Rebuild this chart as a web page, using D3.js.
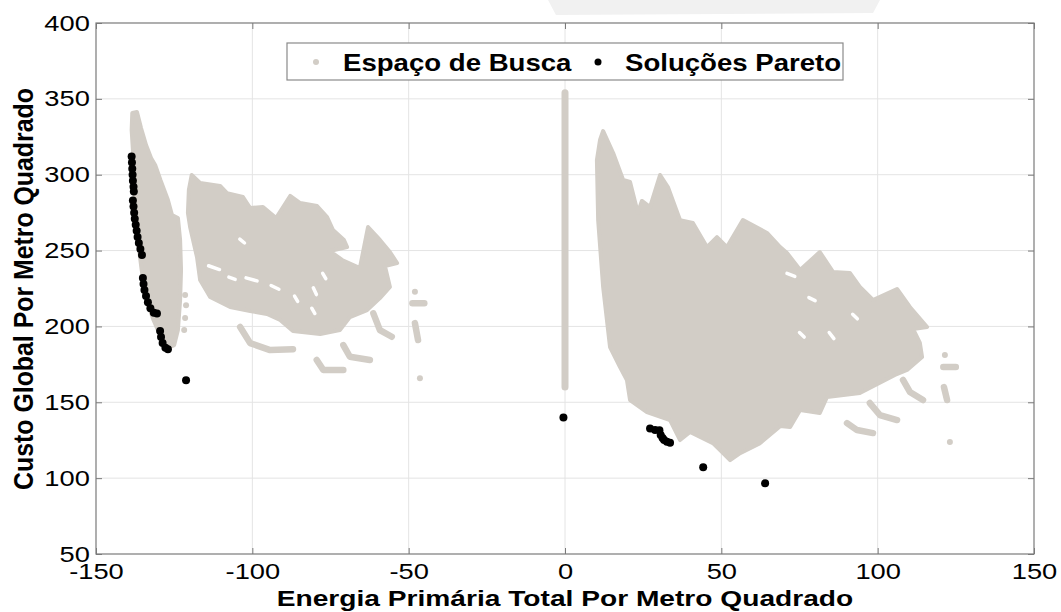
<!DOCTYPE html>
<html>
<head>
<meta charset="utf-8">
<script src="https://cdn.jsdelivr.net/npm/d3@7"></script>
<style>
  body { margin: 0; background: #fff; }
  svg { display: block; font-family: "Liberation Sans", Arial, sans-serif; }
</style>
</head>
<body>
<svg id="chart" width="1061" height="612"></svg>
<script>
// tick values
var xTicks = [-150, -100, -50, 0, 50, 100, 150];
var yTicks = [50, 100, 150, 200, 250, 300, 350, 400];

// search space ("Espaço de Busca") - outlines of the dense clouds
var blobLeftNarrow = [[-138.4,340.7],[-136.9,341.3],[-135.6,330.8],[-134.0,319.6],[-132.4,311.0],[-131.0,306.0],
  [-129.4,296.5],[-127.0,283.3],[-125.7,273.4],[-123.8,271.5],[-123.1,257.0],[-122.8,237.2],[-123.1,217.4],
  [-123.8,197.6],[-125.0,187.7],[-127.0,185.8],[-129.5,194.3],[-131.6,204.2],[-133.8,217.4],[-135.4,237.2],
  [-136.6,257.0],[-137.6,283.3],[-138.0,309.7],[-138.6,329.5]];
var blobLeftWide = [[-119.4,299.8],[-116.7,294.5],[-110.3,292.6],[-108.1,287.9],[-103.0,285.3],[-100.7,278.0],
  [-96.6,278.7],[-92.4,271.5],[-87.9,286.0],[-84.7,281.3],[-79.3,279.4],[-76.1,272.1],[-74.2,263.5],[-70.7,257.0],
  [-69.7,252.3],[-75.2,249.7],[-71.3,243.8],[-65.6,238.5],[-63.0,265.5],[-59.2,257.0],[-56.0,249.0],[-53.7,241.8],
  [-57.6,239.8],[-56.0,226.0],[-59.2,218.7],[-63.3,210.8],[-68.8,206.2],[-72.0,197.6],[-78.3,195.0],[-87.0,197.0],
  [-91.1,204.2],[-95.3,208.2],[-100.7,210.2],[-107.1,212.8],[-113.5,219.4],[-116.7,230.6],[-117.7,245.7],
  [-119.9,265.5],[-120.6,274.8],[-120.3,290.0]];
var blobRight = [[12.2,328.8],[15.4,314.3],[18.6,296.5],[20.8,295.2],[23.3,274.8],[24.6,282.7],[27.2,278.7],
  [30.4,299.8],[32.9,291.9],[36.8,270.1],[40.9,268.2],[45.4,252.3],[48.6,258.9],[51.8,252.3],[56.9,270.1],
  [64.6,261.6],[68.8,252.3],[71.0,248.4],[75.2,237.2],[81.5,249.0],[85.7,235.9],[91.1,235.2],[94.3,226.0],
  [98.5,217.4],[106.2,224.7],[110.3,212.8],[115.8,199.6],[111.3,198.3],[113.5,189.1],[114.2,179.8],[109.4,171.3],
  [105.5,168.0],[94.3,156.1],[83.8,153.5],[81.5,142.9],[75.2,144.9],[72.0,133.7],[68.8,134.3],[62.4,123.1],
  [56.0,116.5],[52.8,111.9],[49.6,118.5],[47.3,123.1],[40.0,130.4],[36.8,125.1],[33.6,138.3],[26.2,143.6],
  [20.8,151.5],[19.8,164.7],[17.6,173.2],[14.4,186.4],[12.2,226.0],[10.6,270.1],[10.2,309.7],[11.2,322.9]];
var zeroColumn = [[0, 160], [0, 354]];
var searchHooks = [
  [[-103.9,199.6],[-100.7,189.0],[-94.3,184.4],[-87.0,185.0]],
  [[-79.4,177.9],[-77.3,171.3],[-70.9,171.3]],
  [[-70.9,187.7],[-68.8,180.0],[-62.4,177.9]],
  [[-61.3,208.6],[-59.2,197.6],[-55.4,193.2]],
  [[-48.0,202.2],[-47.0,191.0]],
  [[-48.8,215.2],[-45.0,215.2]],
  [[108.1,164.7],[110.3,156.8],[114.5,151.5]],
  [[97.5,149.5],[100.7,141.6],[106.2,138.3]],
  [[90.2,136.3],[93.4,131.7],[98.5,129.7]],
  [[121.2,160.0],[122.2,151.5]],
  [[121.0,173.2],[125.0,173.2]]
];
var searchDots = [[-121.5,220.7],[-121.2,214.0],[-121.5,205.5],[-121.8,197.6],[-48.0,222.9],[-46.4,165.8],
  [121.5,181.1],[123.1,123.8]];
// small empty pockets inside the clouds
var cloudGaps = [
  [[-114.0,240.0],[-110.5,237.5]], [[-107.5,232.5],[-105.5,231.0]], [[-102.0,232.0],[-98.5,230.0]],
  [[-94.0,227.0],[-91.5,224.5]], [[-86.5,220.0],[-85.5,216.5]], [[-81.0,212.0],[-80.0,208.5]],
  [[-104.0,257.5],[-102.5,255.0]], [[-77.5,235.0],[-76.5,231.5]], [[-80.5,225.5],[-79.5,221.0]],
  [[44.5,268.0],[46.0,264.0]], [[71.0,235.0],[73.5,233.0]], [[78.0,219.0],[80.0,217.0]],
  [[92.0,208.0],[93.5,205.0]], [[84.5,196.0],[86.0,192.0]], [[75.0,196.0],[76.5,193.0]]
];

// Pareto solutions ("Soluções Pareto")
var paretoLeft = [[-138.6,312],[-138.5,308],[-138.4,304],[-138.3,300],[-138.2,296],[-138.0,292],[-137.9,289],
  [-138.2,283],[-138.0,279],[-137.8,275],[-137.6,271],[-137.3,267],[-137.0,263],[-136.7,259],[-136.3,255],
  [-135.8,251],[-135.3,247],
  [-135.0,232],[-134.8,228],[-134.5,224],[-134.0,220],[-133.4,216],[-132.6,212],[-131.5,209],[-130.5,208.5],
  [-129.5,197],[-129.2,193],[-128.7,189],[-127.8,186],[-127.0,185],
  [-121.2,164.5]];
var paretoRight = [[-0.5,140],[27.2,132.8],[28.8,131.7],[30.2,131.5],[30.6,128.4],[31.2,126.5],[31.7,125.1],
  [32.6,124.0],[33.6,123.3],[44.2,107.1],[64.0,96.6]];

var legendLabels = ["Espaço de Busca", "Soluções Pareto"];

var svg = d3.select("#chart"),
    grey = "#d2cdc6",
    frame = "#7a7a7a",
    x = d3.scaleLinear().domain([-150, 150]).range([96, 1034]),
    y = d3.scaleLinear().domain([50, 400]).range([554, 23]);

// faint scan artefact above the plot
svg.append("path")
    .attr("d", "M548,0L880,0L873,13L556,15Z")
    .attr("fill", "#f1f1f1");

// grid
svg.append("g").selectAll("line").data(xTicks.slice(1, -1)).join("line")
    .attr("x1", d => x(d)).attr("x2", d => x(d))
    .attr("y1", y(50)).attr("y2", y(400))
    .attr("stroke", "#e4e4e4");
svg.append("g").selectAll("line").data(yTicks.slice(1, -1)).join("line")
    .attr("x1", x(-150)).attr("x2", x(150))
    .attr("y1", d => y(d)).attr("y2", d => y(d))
    .attr("stroke", "#e4e4e4");

var openLine = d3.line().x(d => x(d[0])).y(d => y(d[1]));
var closedLine = d3.line().x(d => x(d[0])).y(d => y(d[1])).curve(d3.curveLinearClosed);

// search space clouds
var cloud = svg.append("g");
cloud.selectAll("path.blob").data([blobLeftNarrow, blobLeftWide, blobRight]).join("path")
    .attr("class", "blob")
    .attr("d", d => closedLine(d))
    .attr("fill", grey)
    .attr("stroke", grey)
    .attr("stroke-width", 4)
    .attr("stroke-linejoin", "round");
cloud.selectAll("path.hook").data(searchHooks.concat([zeroColumn])).join("path")
    .attr("class", "hook")
    .attr("d", d => openLine(d))
    .attr("fill", "none")
    .attr("stroke", grey)
    .attr("stroke-width", (d, i) => i == searchHooks.length ? 7 : 6.5)
    .attr("stroke-linecap", "round")
    .attr("stroke-linejoin", "round");
cloud.selectAll("path.gap").data(cloudGaps).join("path")
    .attr("class", "gap")
    .attr("d", d => openLine(d))
    .attr("stroke", "#fff")
    .attr("stroke-width", 3.5)
    .attr("stroke-linecap", "round");
cloud.selectAll("circle").data(searchDots).join("circle")
    .attr("cx", d => x(d[0])).attr("cy", d => y(d[1]))
    .attr("r", 3)
    .attr("fill", grey);

// pareto front
svg.append("g").selectAll("circle").data(paretoLeft.concat(paretoRight)).join("circle")
    .attr("cx", d => x(d[0])).attr("cy", d => y(d[1]))
    .attr("r", 4)
    .attr("fill", "#000");

// axes (ticks pointing inwards, box on)
function styleAxis(g) {
    g.select(".domain").remove();
    g.selectAll(".tick line").attr("stroke", frame);
    g.selectAll("text").attr("fill", "#000").attr("font-size", 22);
}
svg.append("g").attr("transform", "translate(0," + y(50) + ")")
    .call(d3.axisBottom(x).tickValues(xTicks).tickFormat(d => String(d))
        .tickSizeInner(-6).tickSizeOuter(0).tickPadding(9))
    .call(styleAxis)
    .call(g => g.selectAll("text").attr("transform", "scale(1.24,1)"));
svg.append("g").attr("transform", "translate(" + x(-150) + ",0)")
    .call(d3.axisLeft(y).tickValues(yTicks).tickFormat(d => String(d))
        .tickSizeInner(-6).tickSizeOuter(0).tickPadding(6))
    .call(styleAxis)
    .call(g => g.selectAll("text").attr("x", -5).attr("transform", "scale(1.24,1)"));
svg.append("g").attr("transform", "translate(0," + y(400) + ")")
    .call(d3.axisTop(x).tickValues(xTicks).tickSizeInner(-6).tickSizeOuter(0).tickFormat(""))
    .call(styleAxis);
svg.append("g").attr("transform", "translate(" + x(150) + ",0)")
    .call(d3.axisRight(y).tickValues(yTicks).tickSizeInner(-6).tickSizeOuter(0).tickFormat(""))
    .call(styleAxis);

svg.append("rect")
    .attr("x", x(-150)).attr("y", y(400))
    .attr("width", x(150) - x(-150)).attr("height", y(50) - y(400))
    .attr("fill", "none").attr("stroke", frame).attr("stroke-width", 1.2);

// axis titles
svg.append("text")
    .attr("transform", "translate(565,606) scale(1.28,1)")
    .attr("text-anchor", "middle")
    .attr("font-size", 22).attr("font-weight", "bold")
    .text("Energia Primária Total Por Metro Quadrado");
svg.append("text")
    .attr("transform", "translate(33,289) rotate(-90) scale(1.13,1.27)")
    .attr("text-anchor", "middle")
    .attr("font-size", 22).attr("font-weight", "bold")
    .text("Custo Global Por Metro Quadrado");

// legend
var legend = svg.append("g");
legend.append("rect")
    .attr("x", 287).attr("y", 43).attr("width", 556).attr("height", 37)
    .attr("fill", "#fff").attr("stroke", "#8a8a8a").attr("stroke-width", 1.2);
var items = legend.selectAll("g").data(legendLabels).join("g")
    .attr("transform", (d, i) => "translate(" + (i == 0 ? 316 : 598) + ",62)");
items.append("circle")
    .attr("r", (d, i) => i == 0 ? 3 : 3.5)
    .attr("fill", (d, i) => i == 0 ? grey : "#000");
items.append("text")
    .attr("transform", "translate(27,9) scale(1.2,1)")
    .attr("font-size", 23).attr("font-weight", "bold")
    .text(d => d);
</script>
</body>
</html>
